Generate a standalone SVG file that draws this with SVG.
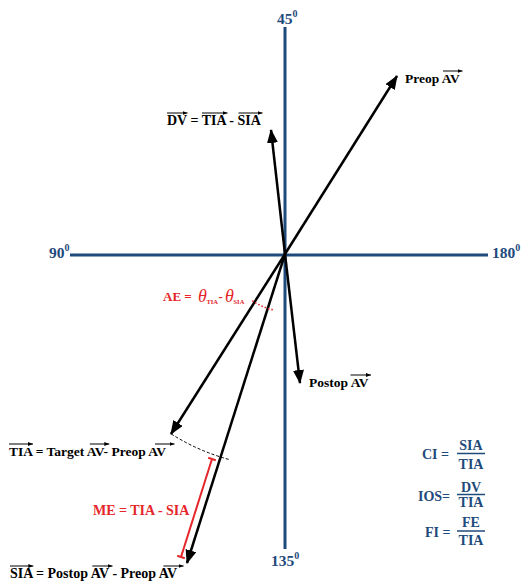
<svg xmlns="http://www.w3.org/2000/svg" width="526" height="585" viewBox="0 0 526 585">
<style>
.ax{stroke:#1f4a7c;stroke-width:3;fill:none}
.axl{font-family:"Liberation Serif",serif;font-weight:bold;fill:#1f4a7c;font-size:15.5px}
.sup{font-size:10px}
.vec{stroke:#000;stroke-width:2.5;fill:none;marker-end:url(#ah)}
.lbl{font-family:"Liberation Serif",serif;font-weight:bold;fill:#000}
.ov{stroke:#000;stroke-width:1;fill:none;marker-end:url(#sa)}
.red{font-family:"Liberation Serif",serif;font-weight:bold;fill:#e5262a}
.th{font-family:"Liberation Serif",serif;font-style:italic;fill:#e5262a;font-size:18px}
.fm{font-family:"Liberation Serif",serif;font-weight:bold;fill:#1f4a7c;font-size:14px}
.bar{stroke:#1f4a7c;stroke-width:1.5}
</style>
<defs>
<marker id="ah" markerUnits="userSpaceOnUse" markerWidth="15" markerHeight="12" refX="13" refY="5.5" orient="auto"><path d="M0,0 L14,5.5 L0,11 z" fill="#000"/></marker>
<marker id="sa" markerUnits="userSpaceOnUse" markerWidth="6" markerHeight="5" refX="5" refY="2" orient="auto"><path d="M0,0 L5,2 L0,4 z" fill="#000"/></marker>
</defs>
<g id="axes">
<line class="ax" x1="285" y1="27" x2="285" y2="549"/>
<line class="ax" x1="70" y1="255" x2="488" y2="255"/>
<text class="axl" x="277" y="24">45<tspan class="sup" dy="-7">0</tspan></text>
<text class="axl" x="49" y="258">90<tspan class="sup" dy="-7">0</tspan></text>
<text class="axl" x="492" y="258">180<tspan class="sup" dy="-7">0</tspan></text>
<text class="axl" x="271" y="566">135<tspan class="sup" dy="-7">0</tspan></text>
</g>
<g id="connectors">
<line class="vec" x1="285" y1="254" x2="397" y2="76"/>
<line class="vec" x1="285" y1="254" x2="271" y2="130"/>
<line class="vec" x1="285" y1="254" x2="300" y2="383"/>
<line class="vec" x1="285" y1="254" x2="171" y2="434"/>
<line class="vec" x1="285" y1="254" x2="187" y2="563"/>
<path d="M171.2,434 A213,213 0 0 0 229.9,459.7" stroke="#000" stroke-width="1" stroke-dasharray="3 2" fill="none"/>
<path d="M252.3,300.7 A57,57 0 0 0 274.1,310" stroke="#e5262a" stroke-width="1.6" stroke-dasharray="1.5 2" fill="none"/>
<g stroke="#e5262a" stroke-width="2">
<line x1="212" y1="459" x2="181" y2="557"/>
<line x1="208.2" y1="457.8" x2="215.8" y2="460.2"/>
<line x1="177.2" y1="555.8" x2="184.8" y2="558.2"/>
</g>
</g>
<g id="preop">
<text class="lbl" x="405" y="83" font-size="13.5">Preop AV</text>
<line class="ov" x1="443" y1="71" x2="462.5" y2="71"/>
</g>
<g id="dv">
<text class="lbl" x="167" y="125" font-size="14">DV = TIA - SIA</text>
<line class="ov" x1="167" y1="113" x2="187.5" y2="113"/>
<line class="ov" x1="202" y1="113" x2="227.5" y2="113"/>
<line class="ov" x1="238.5" y1="113" x2="262.5" y2="113"/>
</g>
<g id="postop">
<text class="lbl" x="309" y="387" font-size="13.5">Postop AV</text>
<line class="ov" x1="350.5" y1="375" x2="371" y2="375"/>
</g>
<g id="tia">
<text class="lbl" x="9" y="456" font-size="13.5">TIA = Target AV- Preop AV</text>
<line class="ov" x1="9" y1="444" x2="33" y2="444"/>
<line class="ov" x1="89.8" y1="444" x2="109.3" y2="444"/>
<line class="ov" x1="155" y1="444" x2="174.5" y2="444"/>
</g>
<g id="sia">
<text class="lbl" x="10" y="578" font-size="14">SIA = Postop AV - Preop AV</text>
<line class="ov" x1="10" y1="566" x2="33.3" y2="566"/>
<line class="ov" x1="92.3" y1="566" x2="112.5" y2="566"/>
<line class="ov" x1="163.4" y1="566" x2="183.6" y2="566"/>
</g>
<g id="ae">
<text class="red" x="163" y="301" font-size="13">AE =</text>
<text class="th" x="198" y="302">θ</text>
<text class="red" x="206.5" y="304" font-size="6.5">TIA</text>
<text class="red" x="218.5" y="301" font-size="13">-</text>
<text class="th" x="225" y="302">θ</text>
<text class="red" x="233.5" y="304" font-size="6.5">SIA</text>
</g>
<g id="me">
<text class="red" x="93" y="515" font-size="14">ME = TIA - SIA</text>
</g>
<g id="ci">
<text class="fm" x="422" y="459">CI =</text>
<text class="fm" x="471" y="450" text-anchor="middle">SIA</text>
<line class="bar" x1="457" y1="453.5" x2="485" y2="453.5"/>
<text class="fm" x="471" y="469" text-anchor="middle">TIA</text>
</g>
<g id="ios">
<text class="fm" x="418" y="501">IOS=</text>
<text class="fm" x="471" y="492" text-anchor="middle">DV</text>
<line class="bar" x1="457" y1="494.5" x2="485" y2="494.5"/>
<text class="fm" x="471" y="507" text-anchor="middle">TIA</text>
</g>
<g id="fi">
<text class="fm" x="425" y="537">FI =</text>
<text class="fm" x="471" y="527" text-anchor="middle">FE</text>
<line class="bar" x1="457" y1="531" x2="485" y2="531"/>
<text class="fm" x="471" y="545" text-anchor="middle">TIA</text>
</g>
</svg>
